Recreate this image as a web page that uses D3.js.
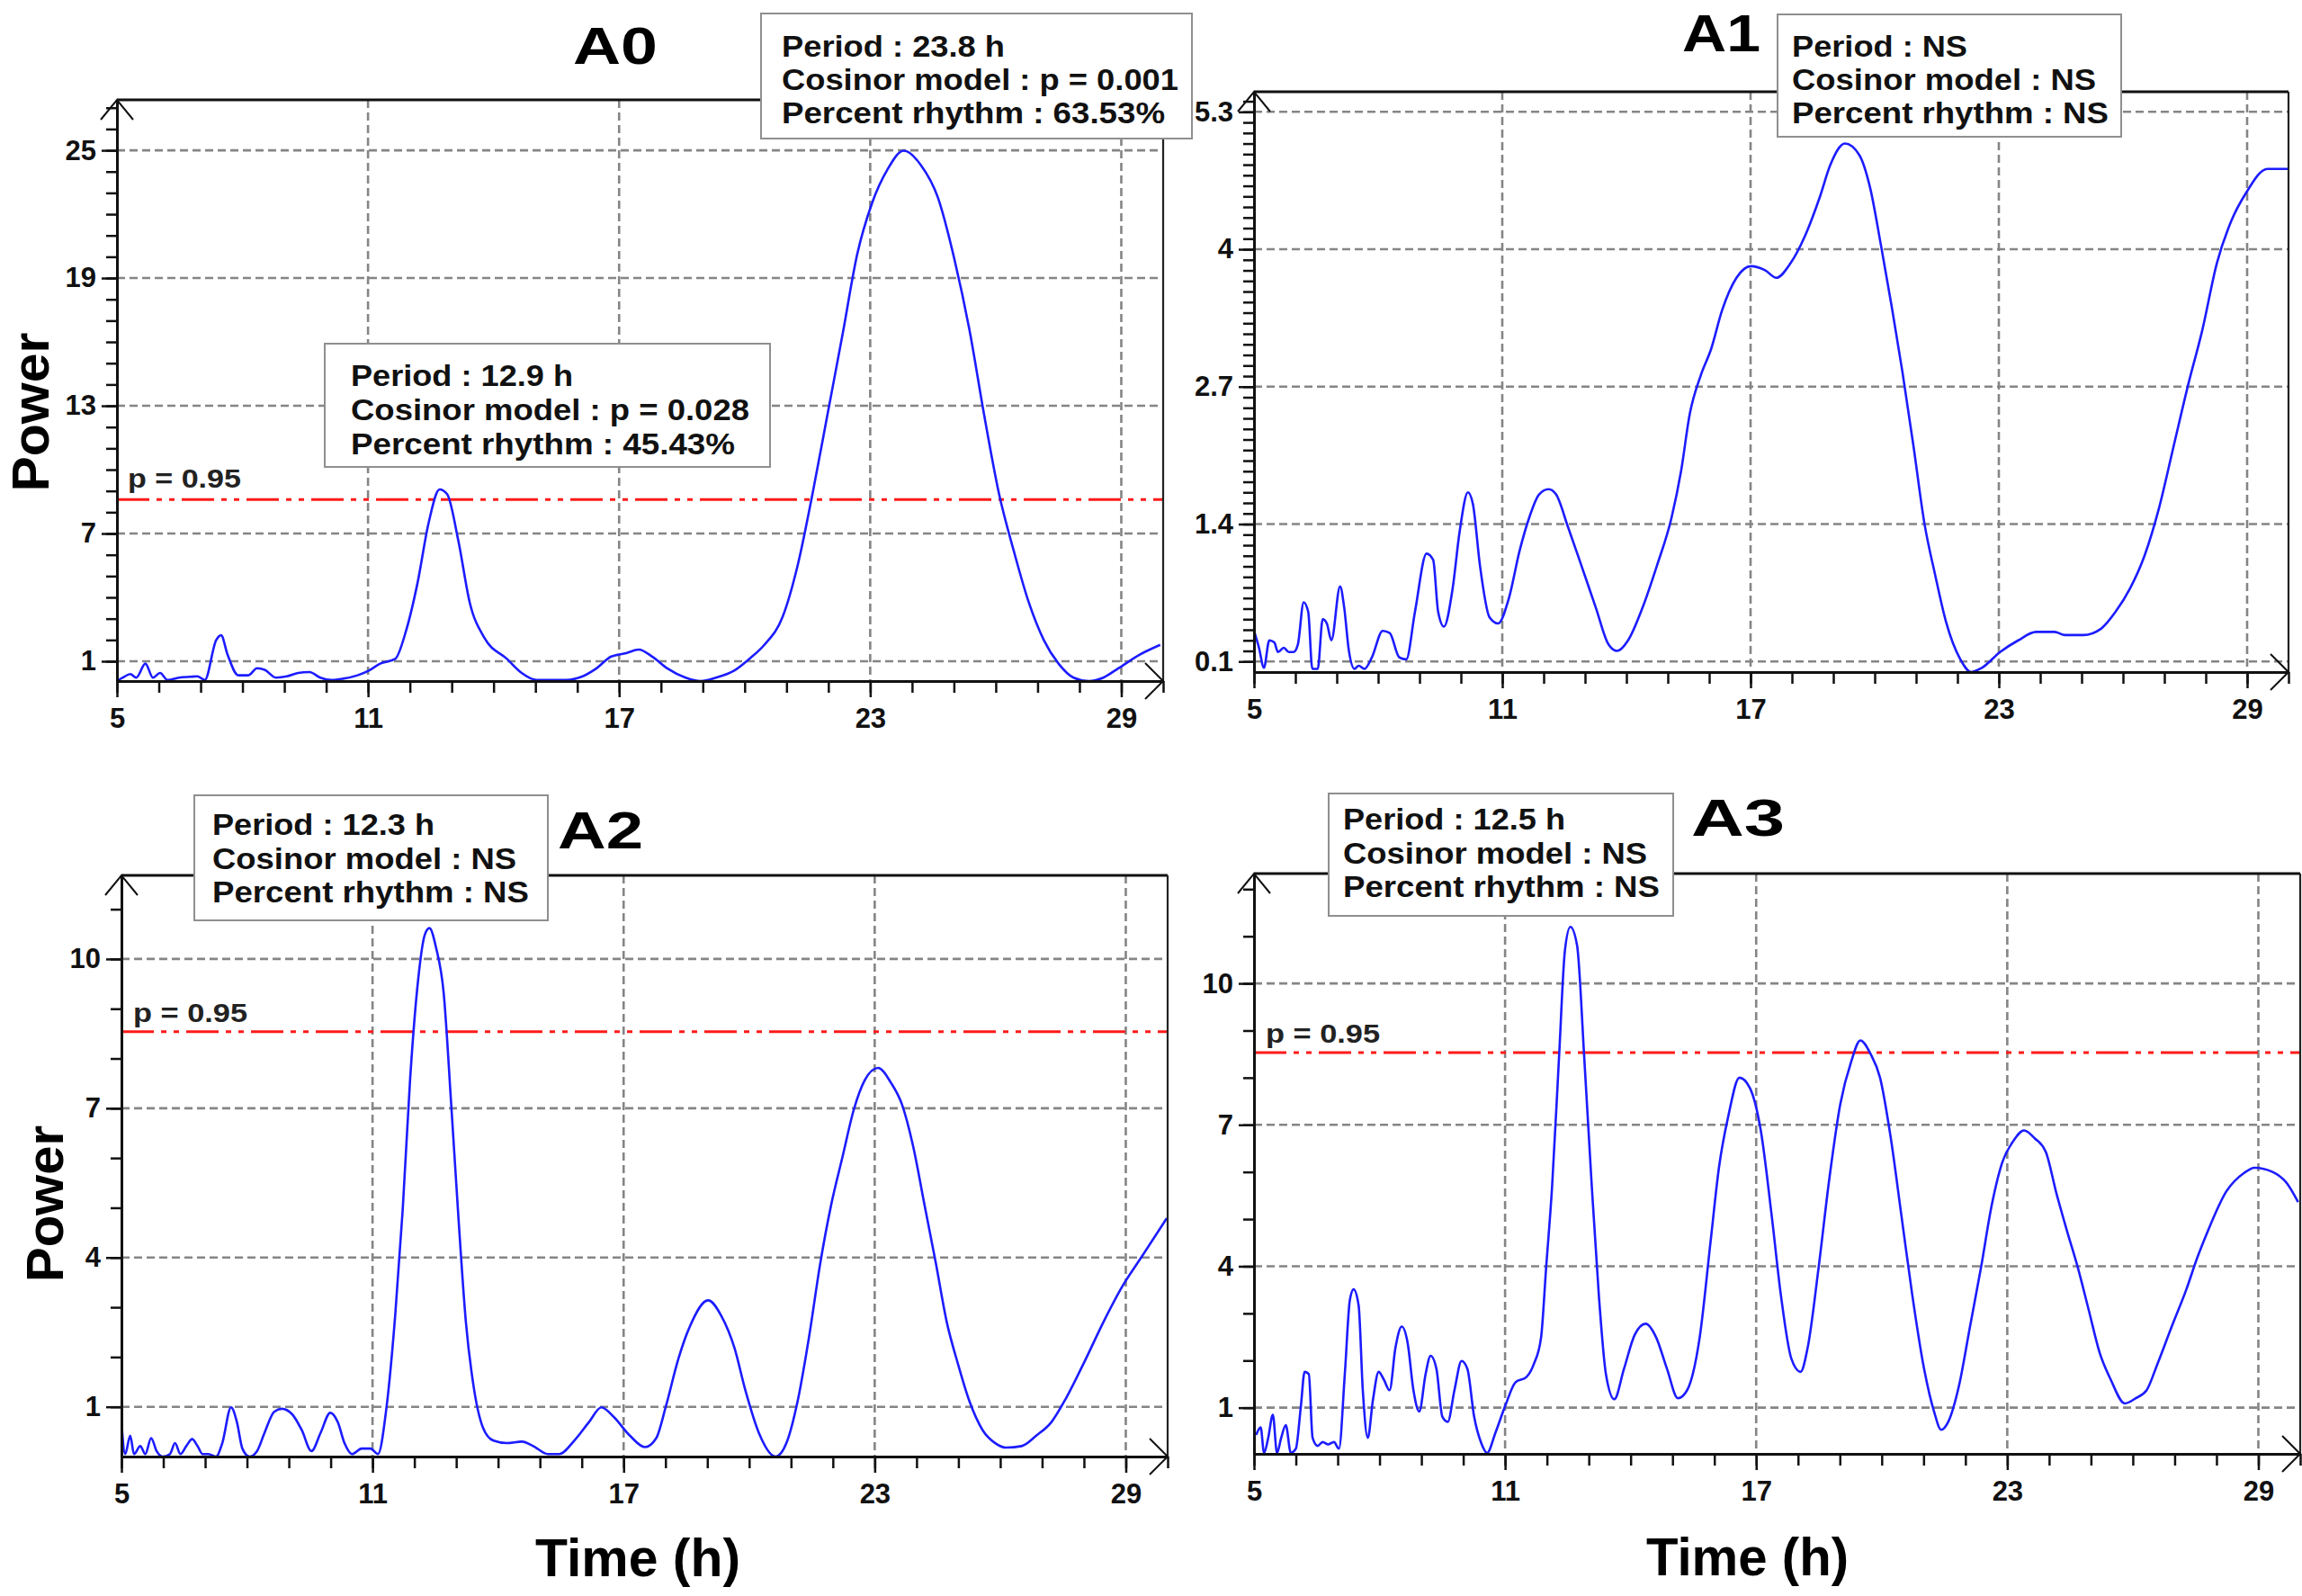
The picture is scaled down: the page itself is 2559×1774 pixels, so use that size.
<!DOCTYPE html>
<html>
<head>
<meta charset="utf-8">
<script src="https://cdn.jsdelivr.net/npm/d3@7"></script>
<style>
  body { margin: 0; background: #fff; }
  svg { display: block; }
  text { font-family: "Liberation Sans", Arial, sans-serif; }
</style>
</head>
<body>
<script>
// ---- data ----
var hourTicks = [5, 11, 17, 23, 29];
var a0PowerTicks = [1, 7, 13, 19, 25];
var a1PowerTicks = [0.1, 1.4, 2.7, 4, 5.3];
var a2PowerTicks = [1, 4, 7, 10];
var a3PowerTicks = [1, 4, 7, 10];

var panelNames = ["A0", "A1", "A2", "A3"];
var thresholdLevels = [8.6, null, 8.54, 8.53];
var thresholdLabel = "p = 0.95";

var a0Hours = [5.00,5.14,5.32,5.46,5.68,5.86,6.03,6.21,6.48,6.75,6.92,7.10,7.37,7.49,7.64,7.90,8.14,8.35,8.53,8.80,9.06,9.33,9.60,9.86,10.13,10.40,10.75,11.02,11.29,11.65,11.91,12.18,12.45,12.71,12.89,13.16,13.43,13.78,14.32,14.67,15.03,15.74,16.10,16.46,16.81,17.17,17.47,17.79,18.15,18.59,18.95,19.31,19.75,20.11,20.47,20.91,21.27,21.62,21.98,22.34,22.69,23.05,23.41,23.80,24.21,24.62,25.01,25.37,25.72,26.08,26.43,26.79,27.15,27.50,27.86,28.22,28.57,28.93,29.46,29.93];
var a0Power = [0.07,0.23,0.40,0.23,0.89,0.23,0.45,0.12,0.23,0.27,0.29,0.12,1.99,2.22,1.33,0.34,0.34,0.67,0.60,0.23,0.29,0.45,0.49,0.23,0.12,0.18,0.34,0.56,0.89,1.11,2.44,4.65,7.52,9.07,8.85,6.64,3.76,2.10,1.11,0.45,0.12,0.12,0.27,0.67,1.22,1.38,1.55,1.22,0.67,0.23,0.07,0.23,0.56,1.11,1.77,3.10,5.53,8.85,12.60,16.36,20.12,22.55,24.09,24.98,24.31,22.77,19.90,16.58,12.60,8.85,6.19,3.76,1.99,0.89,0.23,0.07,0.23,0.67,1.33,1.77];

var a1Hours = [5.00,5.12,5.24,5.37,5.49,5.58,5.72,5.84,5.96,6.06,6.20,6.31,6.41,6.54,6.66,6.76,6.87,7.08,7.18,7.29,7.43,7.53,7.67,7.85,8.11,8.28,8.51,8.68,8.89,9.17,9.33,9.45,9.59,9.80,9.97,10.17,10.29,10.46,10.69,10.90,11.16,11.42,11.65,11.89,12.12,12.30,12.59,12.91,13.26,13.57,13.78,14.04,14.39,14.74,15.09,15.32,15.53,15.79,16.05,16.31,16.66,17.01,17.36,17.62,17.97,18.32,18.67,18.93,19.28,19.63,19.89,20.15,20.41,20.67,20.94,21.20,21.46,21.72,22.07,22.33,22.59,23.03,23.47,23.90,24.34,24.60,25.04,25.47,25.82,26.17,26.52,26.87,27.22,27.57,27.92,28.27,28.62,28.97,29.49,30.00];
var a1Power = [0.39,0.23,0.04,0.30,0.28,0.19,0.23,0.19,0.19,0.26,0.66,0.57,0.03,0.03,0.50,0.46,0.30,0.81,0.61,0.21,0.03,0.06,0.03,0.14,0.39,0.37,0.14,0.12,0.57,1.12,1.06,0.57,0.43,0.79,1.33,1.70,1.59,1.01,0.52,0.46,0.70,1.15,1.46,1.68,1.73,1.68,1.37,1.01,0.61,0.26,0.20,0.30,0.61,1.01,1.46,1.90,2.44,2.80,3.06,3.42,3.73,3.84,3.80,3.73,3.87,4.13,4.49,4.80,5.00,4.89,4.58,4.04,3.46,2.84,2.13,1.41,0.92,0.48,0.12,0.00,0.04,0.19,0.30,0.38,0.38,0.35,0.35,0.41,0.57,0.79,1.10,1.55,2.13,2.71,3.24,3.87,4.27,4.53,4.76,4.76];

var a2Hours = [5.00,5.09,5.21,5.30,5.45,5.57,5.71,5.84,5.98,6.16,6.28,6.41,6.55,6.69,6.82,6.94,7.08,7.26,7.41,7.62,7.76,7.89,8.06,8.24,8.42,8.65,8.83,9.08,9.31,9.54,9.76,9.99,10.17,10.33,10.51,10.74,10.95,11.13,11.33,11.54,11.72,11.90,12.07,12.25,12.36,12.52,12.70,12.88,13.05,13.23,13.41,13.64,13.89,14.21,14.57,14.84,15.19,15.46,15.82,16.17,16.47,16.76,17.15,17.51,17.78,18.01,18.31,18.58,19.02,19.34,19.65,19.91,20.23,20.63,20.89,21.16,21.43,21.70,21.96,22.23,22.50,22.76,23.08,23.39,23.65,23.92,24.19,24.46,24.72,24.99,25.26,25.58,25.88,26.15,26.51,26.86,27.22,27.57,28.02,28.47,28.91,29.36,29.98];
var a2Power = [0.69,0.05,0.42,0.05,0.21,0.05,0.37,0.11,0.00,0.05,0.27,0.05,0.21,0.35,0.21,0.05,0.05,0.00,0.27,0.99,0.69,0.16,0.00,0.11,0.48,0.90,0.96,0.85,0.53,0.11,0.48,0.88,0.69,0.27,0.05,0.16,0.16,0.05,0.96,2.82,4.95,7.61,9.42,10.49,10.62,10.22,9.32,7.08,4.84,2.71,1.44,0.58,0.32,0.27,0.30,0.21,0.05,0.05,0.32,0.69,0.99,0.80,0.42,0.19,0.37,1.01,1.97,2.61,3.14,2.82,2.18,1.33,0.48,0.00,0.27,1.12,2.40,3.89,5.06,6.02,6.97,7.56,7.81,7.51,7.08,6.23,5.06,3.89,2.71,1.86,1.12,0.53,0.27,0.18,0.21,0.42,0.69,1.17,1.92,2.71,3.41,3.99,4.79];

var a3Hours = [5.05,5.16,5.24,5.34,5.45,5.55,5.65,5.76,5.88,6.00,6.12,6.21,6.31,6.40,6.52,6.64,6.77,6.91,7.03,7.17,7.29,7.38,7.50,7.60,7.72,7.84,7.98,8.10,8.24,8.38,8.53,8.67,8.81,8.95,9.10,9.22,9.36,9.50,9.63,9.79,9.96,10.10,10.26,10.43,10.57,10.77,11.00,11.25,11.51,11.69,11.86,11.98,12.12,12.29,12.43,12.56,12.72,12.89,13.06,13.24,13.41,13.61,13.84,14.10,14.36,14.61,14.87,15.13,15.35,15.65,15.91,16.11,16.34,16.60,16.85,17.11,17.37,17.59,17.84,18.06,18.23,18.49,18.75,19.01,19.27,19.49,19.73,19.96,20.21,20.47,20.73,20.99,21.25,21.42,21.59,21.85,22.11,22.37,22.63,22.88,23.14,23.40,23.66,23.92,24.18,24.43,24.69,24.95,25.21,25.47,25.81,26.07,26.33,26.59,26.93,27.28,27.54,27.79,28.23,28.66,28.91,29.34,29.69,29.95];
var a3Power = [0.42,0.58,0.04,0.36,0.85,0.04,0.36,0.63,0.04,0.13,1.03,1.76,1.71,0.36,0.19,0.27,0.22,0.27,0.13,1.71,3.28,3.51,3.17,1.37,0.36,1.15,1.76,1.60,1.37,2.27,2.72,2.38,1.37,0.92,1.71,2.10,1.82,0.81,0.70,1.37,1.99,1.82,0.81,0.25,0.04,0.47,1.03,1.54,1.65,1.93,2.49,3.96,5.64,8.45,10.70,11.20,10.81,8.45,5.87,3.39,1.71,1.18,1.82,2.55,2.78,2.49,1.82,1.20,1.37,2.49,4.52,6.09,7.21,8.00,7.78,6.88,5.08,3.39,2.04,1.76,2.27,3.96,5.87,7.44,8.34,8.79,8.51,8.00,6.76,5.08,3.39,1.93,0.92,0.53,0.70,1.48,2.72,3.96,5.30,6.20,6.65,6.88,6.71,6.43,5.53,4.74,3.96,3.06,2.16,1.60,1.09,1.20,1.37,1.93,2.72,3.51,4.18,4.74,5.58,5.98,6.09,6.00,5.75,5.36];

// annotation texts
var a0PeakNote = ["Period : 23.8 h", "Cosinor model : p = 0.001", "Percent rhythm : 63.53%"];
var a0SecondNote = ["Period : 12.9 h", "Cosinor model : p = 0.028", "Percent rhythm : 45.43%"];
var a1Note = ["Period : NS", "Cosinor model : NS", "Percent rhythm : NS"];
var a2Note = ["Period : 12.3 h", "Cosinor model : NS", "Percent rhythm : NS"];
var a3Note = ["Period : 12.5 h", "Cosinor model : NS", "Percent rhythm : NS"];
var yAxisTitle = "Power";
var xAxisTitle = "Time (h)";

// ---- layout (pixels) ----
var W = 2559, H = 1774;
var panels = [
  { hours: a0Hours, power: a0Power, ticks: a0PowerTicks, minorStep: 1,
    left: 130, right: 1293, top: 111, bottom: 757, yMin: 0.07, yMax: 27.37,
    title: { x: 637, y: 71, w: 94 },
    notes: [
      { lines: a0PeakNote, box: [846, 15, 1325, 154], tx: 869, ty: [63, 100, 137], w: [248, 441, 426] },
      { lines: a0SecondNote, box: [361, 382, 856, 519], tx: 390, ty: [429, 467, 505], w: [247, 443, 427] }
    ],
    pLabel: { x: 142, y: 542, w: 126 },
    yTitle: { x: 54, y: 458, w: 177 }, xTitle: null },
  { hours: a1Hours, power: a1Power, ticks: a1PowerTicks, minorStep: 0.1,
    left: 1394, right: 2544, top: 102, bottom: 747, yMin: 0, yMax: 5.49,
    title: { x: 1870, y: 57, w: 87 },
    notes: [
      { lines: a1Note, box: [1976, 16, 2358, 152], tx: 1992, ty: [63, 100, 137], w: [195, 338, 352] }
    ],
    pLabel: null, yTitle: null, xTitle: null },
  { hours: a2Hours, power: a2Power, ticks: a2PowerTicks, minorStep: 1,
    left: 135, right: 1298, top: 973, bottom: 1619, yMin: 0, yMax: 11.68,
    title: { x: 620, y: 943, w: 95 },
    notes: [
      { lines: a2Note, box: [216, 884, 609, 1023], tx: 236, ty: [928, 966, 1003], w: [247, 338, 352] }
    ],
    pLabel: { x: 148, y: 1136, w: 127 },
    yTitle: { x: 70, y: 1338, w: 174 }, xTitle: { x: 595, y: 1752, w: 228 } },
  { hours: a3Hours, power: a3Power, ticks: a3PowerTicks, minorStep: 1,
    left: 1394, right: 2557, top: 971, bottom: 1616, yMin: 0.02, yMax: 12.33,
    title: { x: 1880, y: 929, w: 104 },
    notes: [
      { lines: a3Note, box: [1477, 882, 1860, 1018], tx: 1493, ty: [922, 960, 997], w: [247, 338, 352] }
    ],
    pLabel: { x: 1407, y: 1159, w: 127 },
    yTitle: null, xTitle: { x: 1830, y: 1751, w: 225 } }
];

var svg = d3.select("body").append("svg")
    .attr("width", W)
    .attr("height", H);

svg.append("rect").attr("width", W).attr("height", H).attr("fill", "#fff");

var defs = svg.append("defs");

function fmtTick(d) {
  return Number.isInteger(d) ? String(d) : d.toFixed(1);
}

panels.forEach(function (p, i) {
  var x = d3.scaleLinear().domain([5, 30]).range([p.left, p.right]);
  var y = d3.scaleLinear().domain([p.yMin, p.yMax]).range([p.bottom, p.top]);
  var g = svg.append("g");

  defs.append("clipPath").attr("id", "clip" + i)
    .append("rect")
      .attr("x", p.left).attr("y", p.top)
      .attr("width", p.right - p.left).attr("height", p.bottom - p.top);

  // dashed grid
  g.selectAll(".hgrid").data(p.ticks).enter().append("line")
      .attr("x1", p.left).attr("x2", p.right)
      .attr("y1", function (d) { return y(d); })
      .attr("y2", function (d) { return y(d); })
      .attr("stroke", "#858585").attr("stroke-width", 2.6)
      .attr("stroke-dasharray", "9,5");

  g.selectAll(".vgrid").data(hourTicks.filter(function (d) { return d > 5; })).enter().append("line")
      .attr("x1", function (d) { return x(d); })
      .attr("x2", function (d) { return x(d); })
      .attr("y1", p.top).attr("y2", p.bottom)
      .attr("stroke", "#858585").attr("stroke-width", 2.6)
      .attr("stroke-dasharray", "9,5");

  // significance threshold
  var level = thresholdLevels[i];
  if (level != null) {
    g.append("line")
      .attr("x1", p.left).attr("x2", p.right)
      .attr("y1", y(level)).attr("y2", y(level))
      .attr("stroke", "#ff1a1a").attr("stroke-width", 3)
      .attr("stroke-dasharray", "36,8,6,8,6,8");
    g.append("text")
      .attr("x", p.pLabel.x).attr("y", p.pLabel.y)
      .attr("font-size", 30).attr("font-weight", "bold").attr("fill", "#222")
      .attr("textLength", p.pLabel.w).attr("lengthAdjust", "spacingAndGlyphs")
      .text(thresholdLabel);
  }

  // periodogram curve
  var line = d3.line()
      .x(function (d) { return x(d[0]); })
      .y(function (d) { return y(d[1]); })
      .curve(d3.curveMonotoneX);

  g.append("path")
      .datum(d3.zip(p.hours, p.power))
      .attr("clip-path", "url(#clip" + i + ")")
      .attr("fill", "none")
      .attr("stroke", "#1c1cff")
      .attr("stroke-width", 2.6)
      .attr("stroke-linejoin", "round")
      .attr("d", line);

  // frame (top + right)
  g.append("line").attr("x1", p.left).attr("x2", p.right).attr("y1", p.top).attr("y2", p.top)
      .attr("stroke", "#111").attr("stroke-width", 3);
  g.append("line").attr("x1", p.right).attr("x2", p.right).attr("y1", p.top).attr("y2", p.bottom)
      .attr("stroke", "#222").attr("stroke-width", 2.2);

  // x axis: minor ticks every hour, labelled major ticks
  var xMinor = d3.range(5, 30.001, 1);
  g.append("g").attr("transform", "translate(0," + p.bottom + ")")
      .call(d3.axisBottom(x).tickValues(xMinor).tickSize(13).tickSizeOuter(0).tickFormat(""))
      .call(function (a) {
        a.select(".domain").attr("stroke", "#111").attr("stroke-width", 3);
        a.selectAll(".tick line").attr("stroke", "#111").attr("stroke-width", 2.5);
      });
  g.append("g").attr("transform", "translate(0," + p.bottom + ")")
      .call(d3.axisBottom(x).tickValues(hourTicks).tickSize(18).tickSizeOuter(0).tickPadding(12))
      .call(function (a) {
        a.select(".domain").remove();
        a.selectAll(".tick line").attr("stroke", "#111").attr("stroke-width", 2.5);
        a.selectAll(".tick text").attr("font-size", 31).attr("font-weight", "bold")
          .attr("fill", "#111").style("font-family", "'Liberation Sans', Arial, sans-serif");
      });

  // y axis
  var nMinor = Math.floor((p.yMax - 0.0001) / p.minorStep);
  var yMinor = d3.range(1, nMinor + 1).map(function (k) { return +(k * p.minorStep).toFixed(2); })
      .filter(function (v) { return v >= p.yMin; });
  g.append("g").attr("transform", "translate(" + p.left + ",0)")
      .call(d3.axisLeft(y).tickValues(yMinor).tickSize(12).tickSizeOuter(0).tickFormat(""))
      .call(function (a) {
        a.select(".domain").attr("stroke", "#111").attr("stroke-width", 3);
        a.selectAll(".tick line").attr("stroke", "#111").attr("stroke-width", 2.5);
      });
  g.append("g").attr("transform", "translate(" + p.left + ",0)")
      .call(d3.axisLeft(y).tickValues(p.ticks).tickSize(17).tickSizeOuter(0).tickPadding(6).tickFormat(fmtTick))
      .call(function (a) {
        a.select(".domain").remove();
        a.selectAll(".tick line").attr("stroke", "#111").attr("stroke-width", 2.5);
        a.selectAll(".tick text").attr("font-size", 31).attr("font-weight", "bold")
          .attr("fill", "#111").style("font-family", "'Liberation Sans', Arial, sans-serif");
      });

  // open arrow heads at axis ends
  g.append("path")
      .attr("d", "M" + (p.left - 18) + "," + (p.top + 22) + "L" + p.left + "," + p.top + "L" + (p.left + 18) + "," + (p.top + 22))
      .attr("fill", "none").attr("stroke", "#111").attr("stroke-width", 2);
  g.append("path")
      .attr("d", "M" + (p.right - 20) + "," + (p.bottom - 20) + "L" + p.right + "," + p.bottom + "L" + (p.right - 20) + "," + (p.bottom + 20))
      .attr("fill", "none").attr("stroke", "#111").attr("stroke-width", 2);

  // annotation boxes
  p.notes.forEach(function (n) {
    g.append("rect")
      .attr("x", n.box[0]).attr("y", n.box[1])
      .attr("width", n.box[2] - n.box[0]).attr("height", n.box[3] - n.box[1])
      .attr("fill", "#fff").attr("stroke", "#8f8f8f").attr("stroke-width", 2);
    n.lines.forEach(function (t, k) {
      g.append("text")
        .attr("x", n.tx).attr("y", n.ty[k])
        .attr("font-size", 33).attr("font-weight", "bold").attr("fill", "#111")
        .attr("textLength", n.w[k]).attr("lengthAdjust", "spacingAndGlyphs")
        .text(t);
    });
  });

  // panel title
  g.append("text")
    .attr("x", p.title.x).attr("y", p.title.y)
    .attr("font-size", 58).attr("font-weight", "bold").attr("fill", "#000")
    .attr("textLength", p.title.w).attr("lengthAdjust", "spacingAndGlyphs")
    .text(panelNames[i]);

  if (p.yTitle) {
    g.append("text")
      .attr("transform", "translate(" + p.yTitle.x + "," + p.yTitle.y + ") rotate(-90)")
      .attr("text-anchor", "middle")
      .attr("font-size", 58).attr("font-weight", "bold").attr("fill", "#000")
      .attr("textLength", p.yTitle.w).attr("lengthAdjust", "spacingAndGlyphs")
      .text(yAxisTitle);
  }
  if (p.xTitle) {
    g.append("text")
      .attr("x", p.xTitle.x).attr("y", p.xTitle.y)
      .attr("font-size", 59).attr("font-weight", "bold").attr("fill", "#000")
      .attr("textLength", p.xTitle.w).attr("lengthAdjust", "spacingAndGlyphs")
      .text(xAxisTitle);
  }
});
</script>
</body>
</html>
